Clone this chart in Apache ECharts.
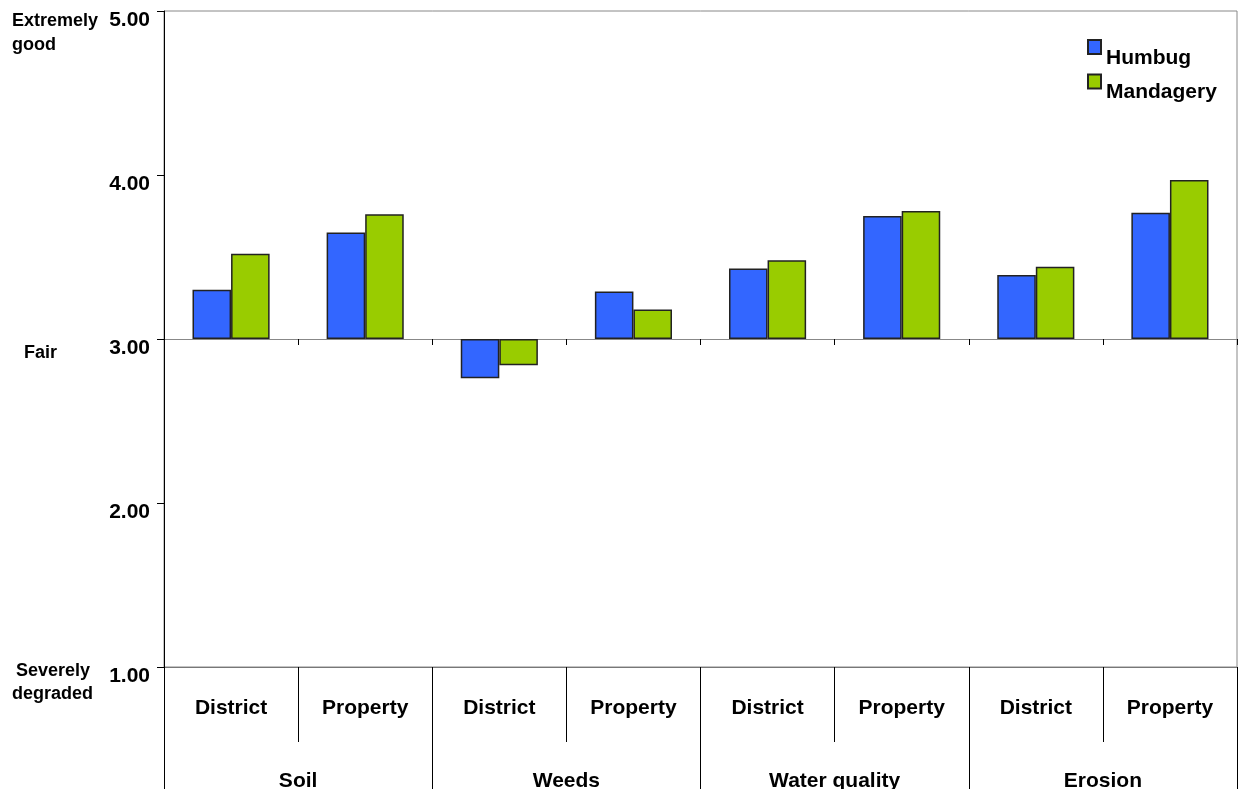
<!DOCTYPE html>
<html>
<head>
<meta charset="UTF-8"/>
<title></title>
<script src="https://cdn.jsdelivr.net/npm/echarts@6/dist/echarts.min.js"></script>
<style>
html,body{margin:0;padding:0;background:#fff;}
#placeholder{width:1241px;height:789px;}
</style>
</head>
<body>
<div id="placeholder"></div>
<script>
var categories = ['District','Property','District','Property','District','Property','District','Property'];
var groups = ['Soil','Weeds','Water quality','Erosion'];
var humbug = [3.30, 3.65, 2.76, 3.29, 3.43, 3.75, 3.39, 3.77];
var mandagery = [3.52, 3.76, 2.84, 3.18, 3.48, 3.78, 3.44, 3.97];
var fair = 3; // bars grow up or down from "Fair"

var font = 'Liberation Sans';

// shift values so bars start at the Fair line
function fromFair(arr) {
  return arr.map(function (v) { return +(v - fair).toFixed(3); });
}

var myChart = echarts.init(document.getElementById('placeholder'));
var option = {
  animation: false,
  textStyle: { fontFamily: font },
  grid: {
    left: 164, right: 4, top: 11, bottom: 122,
    outerBoundsMode: 'none',
    show: true, borderColor: '#888', borderWidth: 1
  },
  legend: {
    orient: 'vertical',
    left: 1082, top: 34,
    icon: 'rect',
    itemWidth: 13, itemHeight: 14, itemGap: 5,
    formatter: '{n|{name}}',
    textStyle: {
      fontFamily: font, fontSize: 21, fontWeight: 'bold', color: '#000',
      rich: { n: { fontFamily: font, fontSize: 21, fontWeight: 'bold', color: '#000', padding: [22, 0, 0, 0] } }
    },
    data: ['Humbug', 'Mandagery']
  },
  xAxis: [
    {
      type: 'category', data: categories,
      axisLine: { onZero: true, onZeroAxisIndex: 0, lineStyle: { color: '#888', width: 1 } },
      axisTick: { show: true, length: 6, lineStyle: { color: '#000' } },
      axisLabel: { show: false }
    },
    {
      type: 'category', data: categories, position: 'bottom',
      axisLine: { onZero: false, lineStyle: { color: '#777' } },
      axisTick: { show: true, length: 75, lineStyle: { color: '#000' } },
      axisLabel: { margin: 31, fontFamily: font, fontSize: 21, fontWeight: 'bold', color: '#000' }
    },
    {
      type: 'category', data: groups, position: 'bottom',
      axisLine: { show: false, onZero: false },
      axisTick: { show: true, length: 122, lineStyle: { color: '#000' } },
      axisLabel: { margin: 104, fontFamily: font, fontSize: 21, fontWeight: 'bold', color: '#000' }
    }
  ],
  yAxis: [
    {
      type: 'value', min: -2, max: 2, interval: 1,
      axisLine: { show: true, lineStyle: { color: '#000' } },
      axisTick: { show: true, length: 7, lineStyle: { color: '#000' } },
      splitLine: { show: false },
      axisLabel: {
        margin: 14, fontFamily: font, fontSize: 21, fontWeight: 'bold', color: '#000',
        verticalAlign: 'top', lineHeight: 19,
        formatter: function (v) { return (v + fair).toFixed(2); }
      }
    },
    {
      type: 'value', min: -2, max: 2, interval: 1, position: 'left', offset: 152,
      axisLine: { show: false }, axisTick: { show: false }, splitLine: { show: false },
      axisLabel: {
        margin: 0, align: 'left', verticalAlign: 'middle',
        fontFamily: font, fontSize: 18, fontWeight: 'bold', color: '#000',
        formatter: function (v) {
          if (v === 2) return '{t| }\n{d|Extremely}\n{d|good}';
          if (v === 0) return '{m| }\n{f|Fair}';
          if (v === -2) return '{b| }\n{s|Severely}\n{e|degraded}';
          return '';
        },
        rich: {
          t: { lineHeight: 45, fontSize: 10 },
          m: { lineHeight: 28, fontSize: 10 },
          b: { lineHeight: 31, fontSize: 10 },
          d: { fontFamily: font, fontSize: 18, fontWeight: 'bold', lineHeight: 24, color: '#000' },
          f: { fontFamily: font, fontSize: 18, fontWeight: 'bold', lineHeight: 24, color: '#000', padding: [0, 0, 0, 12] },
          s: { fontFamily: font, fontSize: 18, fontWeight: 'bold', lineHeight: 23, color: '#000', padding: [0, 0, 0, 4] },
          e: { fontFamily: font, fontSize: 18, fontWeight: 'bold', lineHeight: 23, color: '#000' }
        }
      }
    }
  ],
  series: [
    {
      name: 'Humbug', type: 'bar', xAxisIndex: 0, yAxisIndex: 0,
      barGap: '0%', barCategoryGap: '42.5%',
      itemStyle: { color: '#3366ff', borderColor: '#222', borderWidth: 1.5 },
      data: fromFair(humbug)
    },
    {
      name: 'Mandagery', type: 'bar', xAxisIndex: 0, yAxisIndex: 0,
      barGap: '0%', barCategoryGap: '42.5%',
      itemStyle: { color: '#99cc00', borderColor: '#222', borderWidth: 1.5 },
      data: fromFair(mandagery)
    }
  ]
};
myChart.setOption(option);
</script>
</body>
</html>
